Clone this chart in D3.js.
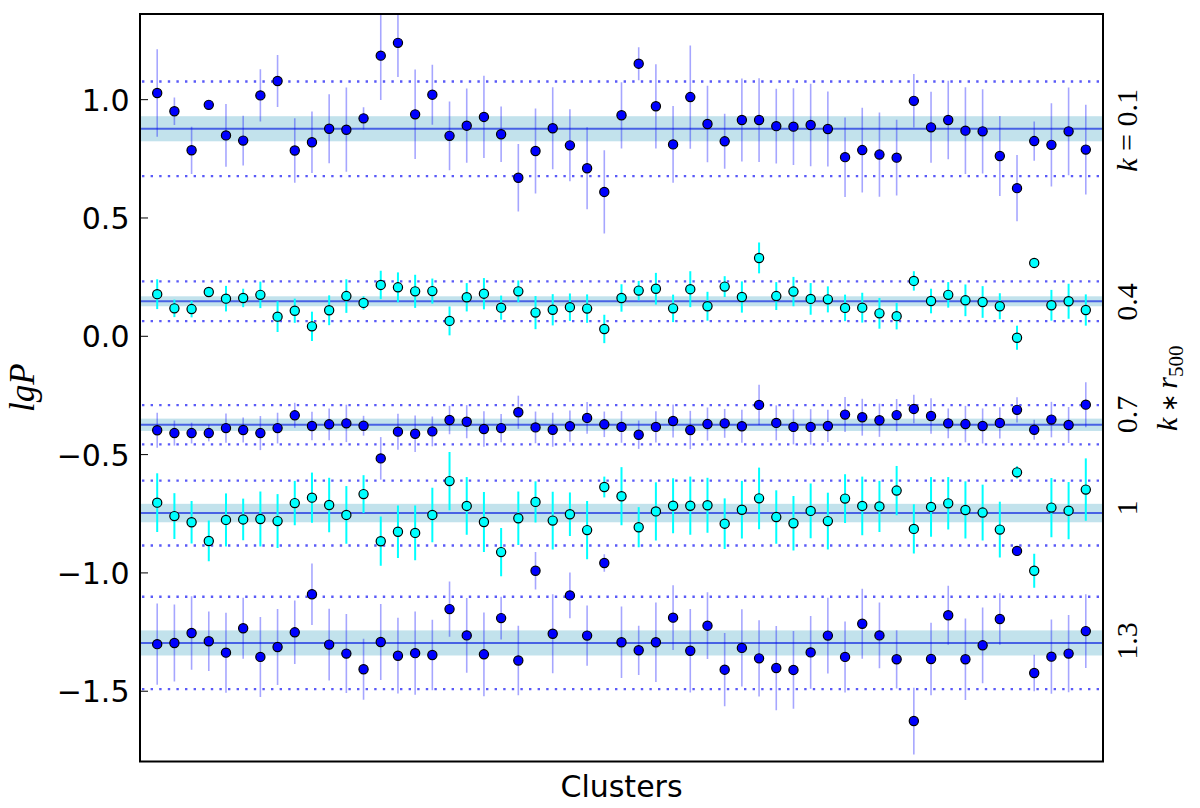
<!DOCTYPE html>
<html>
<head>
<meta charset="utf-8">
<script src="https://cdn.jsdelivr.net/npm/d3@7"></script>
<style>
  body { margin: 0; background: #fff; }
  svg { display: block; }
</style>
</head>
<body>
<div id="chart"></div>
<script>
// right-hand labels (k * r500) for each row
var kLabels = ["0.1", "0.4", "0.7", "1", "1.3"];
var labelAt = [0.870, 0.145, -0.331, -0.726, -1.288];   // where the label sits (lgP units)
var yTicks = [-1.5, -1.0, -0.5, 0.0, 0.5, 1.0];

// mean lgP, half width of the shaded band, half width of the dotted band
var rowMean = [0.877, 0.148, -0.374, -0.747, -1.296];
var rowBand = [0.053, 0.021, 0.026, 0.039, 0.053];
var rowDot  = [0.200, 0.084, 0.083, 0.137, 0.195];

// k = 0.1
var lgP1 = [1.028, 0.951, 0.786, 0.978, 0.849, 0.827, 1.018, 1.079, 0.785, 0.82, 0.877, 0.873, 0.921, 1.186, 1.24, 0.938, 1.021, 0.847, 0.89, 0.927,
    0.854, 0.67, 0.783, 0.879, 0.807, 0.71, 0.61, 0.934, 1.152, 0.972, 0.811, 1.011, 0.897, 0.824, 0.914, 0.914, 0.888, 0.886, 0.893, 0.876,
    0.757, 0.787, 0.768, 0.755, 0.995, 0.883, 0.914, 0.869, 0.866, 0.762, 0.626, 0.825, 0.809, 0.866, 0.789];
var err1 = [0.185, 0.058, 0.1, 0.02, 0.133, 0.105, 0.11, 0.11, 0.136, 0.13, 0.146, 0.178, 0.047, 0.187, 0.144, 0.189, 0.127, 0.145, 0.157, 0.174,
    0.117, 0.143, 0.18, 0.173, 0.152, 0.173, 0.176, 0.14, 0.07, 0.178, 0.162, 0.218, 0.162, 0.116, 0.175, 0.177, 0.158, 0.162, 0.174, 0.158,
    0.168, 0.179, 0.178, 0.16, 0.113, 0.15, 0.166, 0.183, 0.178, 0.169, 0.14, 0.083, 0.176, 0.185, 0.19];

// k = 0.4
var lgP2 = [0.178, 0.118, 0.115, 0.187, 0.159, 0.162, 0.175, 0.083, 0.108, 0.042, 0.11, 0.17, 0.141, 0.217, 0.207, 0.19, 0.191, 0.065, 0.165, 0.18,
    0.121, 0.19, 0.1, 0.112, 0.123, 0.117, 0.031, 0.162, 0.193, 0.201, 0.118, 0.199, 0.127, 0.21, 0.166, 0.331, 0.17, 0.189, 0.158, 0.156,
    0.12, 0.121, 0.097, 0.085, 0.234, 0.149, 0.175, 0.152, 0.145, 0.127, -0.006, 0.31, 0.131, 0.148, 0.111];
var err2 = [0.063, 0.037, 0.035, 0.02, 0.054, 0.039, 0.056, 0.065, 0.051, 0.062, 0.063, 0.071, 0.028, 0.06, 0.063, 0.07, 0.053, 0.061, 0.06, 0.066,
    0.051, 0.046, 0.07, 0.066, 0.058, 0.06, 0.06, 0.058, 0.041, 0.067, 0.058, 0.076, 0.061, 0.044, 0.066, 0.065, 0.059, 0.062, 0.067, 0.055,
    0.056, 0.063, 0.065, 0.056, 0.041, 0.052, 0.054, 0.067, 0.067, 0.055, 0.051, 0.02, 0.065, 0.074, 0.066];

// k = 0.7
var lgP3 = [-0.397, -0.409, -0.409, -0.409, -0.388, -0.396, -0.409, -0.388, -0.334, -0.379, -0.372, -0.368, -0.378, -0.516, -0.403, -0.412, -0.402, -0.354, -0.361, -0.392,
    -0.388, -0.321, -0.385, -0.395, -0.38, -0.345, -0.372, -0.383, -0.416, -0.383, -0.358, -0.396, -0.371, -0.368, -0.38, -0.29, -0.366, -0.383, -0.383, -0.379,
    -0.331, -0.342, -0.355, -0.333, -0.307, -0.337, -0.368, -0.371, -0.379, -0.366, -0.311, -0.395, -0.352, -0.375, -0.289];
var err3 = [0.074, 0.053, 0.044, 0.035, 0.062, 0.053, 0.072, 0.065, 0.053, 0.06, 0.067, 0.079, 0.042, 0.09, 0.076, 0.077, 0.063, 0.06, 0.07, 0.075,
    0.06, 0.07, 0.067, 0.072, 0.066, 0.067, 0.054, 0.067, 0.06, 0.066, 0.07, 0.081, 0.07, 0.061, 0.07, 0.085, 0.074, 0.074, 0.075, 0.068,
    0.074, 0.078, 0.07, 0.068, 0.06, 0.075, 0.063, 0.077, 0.074, 0.066, 0.053, 0.042, 0.075, 0.076, 0.095];

// k = 1
var lgP4 = [-0.703, -0.76, -0.786, -0.865, -0.776, -0.774, -0.772, -0.781, -0.705, -0.682, -0.713, -0.755, -0.667, -0.866, -0.826, -0.831, -0.755, -0.612, -0.717, -0.785,
    -0.912, -0.769, -0.7, -0.779, -0.752, -0.819, -0.637, -0.676, -0.807, -0.74, -0.716, -0.716, -0.714, -0.792, -0.733, -0.685, -0.764, -0.79, -0.738, -0.781,
    -0.686, -0.717, -0.719, -0.652, -0.814, -0.721, -0.706, -0.734, -0.745, -0.817, -0.575, -0.991, -0.724, -0.737, -0.648];
var err4 = [0.124, 0.097, 0.09, 0.086, 0.112, 0.088, 0.116, 0.114, 0.094, 0.106, 0.115, 0.122, 0.08, 0.104, 0.111, 0.116, 0.115, 0.123, 0.122, 0.127,
    0.102, 0.113, 0.087, 0.122, 0.092, 0.123, 0.044, 0.123, 0.085, 0.123, 0.116, 0.123, 0.116, 0.107, 0.122, 0.13, 0.113, 0.115, 0.116, 0.12,
    0.103, 0.124, 0.108, 0.104, 0.104, 0.126, 0.111, 0.121, 0.118, 0.118, 0.026, 0.072, 0.125, 0.121, 0.132];

// k = 1.3
var lgP5 = [-1.301, -1.296, -1.254, -1.289, -1.337, -1.234, -1.355, -1.313, -1.251, -1.09, -1.303, -1.341, -1.407, -1.292, -1.35, -1.339, -1.347, -1.153, -1.264, -1.344,
    -1.191, -1.37, -0.991, -1.257, -1.095, -1.265, -0.958, -1.293, -1.327, -1.293, -1.189, -1.329, -1.223, -1.409, -1.317, -1.361, -1.402, -1.41, -1.336, -1.265,
    -1.355, -1.215, -1.264, -1.365, -1.626, -1.364, -1.179, -1.365, -1.306, -1.195, -0.907, -1.423, -1.354, -1.341, -1.246];
var err5 = [0.172, 0.163, 0.155, 0.126, 0.169, 0.129, 0.169, 0.161, 0.134, 0.13, 0.152, 0.167, 0.129, 0.161, 0.16, 0.176, 0.149, 0.117, 0.158, 0.177,
    0.09, 0.147, 0.079, 0.167, 0.097, 0.127, 0.037, 0.151, 0.104, 0.168, 0.137, 0.176, 0.141, 0.155, 0.163, 0.161, 0.178, 0.164, 0.154, 0.16,
    0.15, 0.148, 0.139, 0.123, 0.141, 0.153, 0.125, 0.172, 0.16, 0.109, 0.02, 0.077, 0.157, 0.163, 0.156];

var lgP = [lgP1, lgP2, lgP3, lgP4, lgP5];
var errs = [err1, err2, err3, err4, err5];

var width = 1200, height = 808;
var margin = {top: 14, right: 97, bottom: 46.5, left: 140};
var svg, x, y;

function init() {
    svg = d3.select("#chart").append("svg")
        .attr("width", width)
        .attr("height", height);

    // clusters sit at 1..55, with one slot of room either side
    x = d3.scaleLinear()
        .domain([0, lgP1.length + 1])
        .range([margin.left, width - margin.right]);

    y = d3.scaleLinear()
        .domain([-1.797, 1.362])
        .range([height - margin.bottom, margin.top]);

    svg.append("clipPath").attr("id", "plot")
        .append("rect")
        .attr("x", margin.left)
        .attr("y", margin.top)
        .attr("width", width - margin.left - margin.right)
        .attr("height", height - margin.top - margin.bottom);

    var rows = d3.range(lgP.length);
    var xl = margin.left, xr = width - margin.right;

    var bg = svg.append("g").attr("clip-path", "url(#plot)");

    // shaded band around each row mean
    bg.selectAll(".band")
        .data(rows)
        .enter().append("rect")
        .attr("class", "band")
        .attr("x", xl)
        .attr("width", xr - xl)
        .attr("y", function (r) { return y(rowMean[r] + rowBand[r]); })
        .attr("height", function (r) { return y(rowMean[r] - rowBand[r]) - y(rowMean[r] + rowBand[r]); })
        .style("fill", "#add8e6")
        .style("opacity", 0.75);

    // dotted limits
    rows.forEach(function (r) {
        [1, -1].forEach(function (s) {
            bg.append("line")
                .attr("x1", xl + 2).attr("x2", xr)
                .attr("y1", y(rowMean[r] + s * rowDot[r]))
                .attr("y2", y(rowMean[r] + s * rowDot[r]))
                .style("stroke", "#5a5af8")
                .style("stroke-width", 2.4)
                .style("stroke-dasharray", "2.4,6.2");
        });
    });

    // mean lines
    bg.selectAll(".mean")
        .data(rows)
        .enter().append("line")
        .attr("class", "mean")
        .attr("x1", xl).attr("x2", xr)
        .attr("y1", function (r) { return y(rowMean[r]); })
        .attr("y2", function (r) { return y(rowMean[r]); })
        .style("stroke", "#4862e4")
        .style("stroke-width", 2);

    // error bars
    rows.forEach(function (r) {
        var cyan = r % 2 == 1;
        bg.append("g").selectAll("line")
            .data(lgP[r])
            .enter().append("line")
            .attr("x1", function (d, i) { return x(i + 1); })
            .attr("x2", function (d, i) { return x(i + 1); })
            .attr("y1", function (d, i) { return y(d + errs[r][i]); })
            .attr("y2", function (d, i) { return y(d - errs[r][i]); })
            .style("stroke", cyan ? "#00ffff" : "rgba(0,0,255,0.35)")
            .style("stroke-width", cyan ? 2 : 1.6);
    });

    // points
    rows.forEach(function (r) {
        svg.append("g").selectAll("circle")
            .data(lgP[r])
            .enter().append("circle")
            .attr("cx", function (d, i) { return x(i + 1); })
            .attr("cy", function (d) { return y(d); })
            .attr("r", 4.6)
            .style("fill", r % 2 == 1 ? "#00ffff" : "#0000ff")
            .style("stroke", "#000")
            .style("stroke-width", 1.2);
    });

    // y ticks (inside) and labels
    var fmt = d3.format(".1f");
    svg.selectAll(".tick")
        .data(yTicks)
        .enter().append("line")
        .attr("x1", xl).attr("x2", xl + 8)
        .attr("y1", function (d) { return y(d); })
        .attr("y2", function (d) { return y(d); })
        .style("stroke", "#000")
        .style("stroke-width", 1);

    svg.selectAll(".ticklabel")
        .data(yTicks)
        .enter().append("text")
        .attr("x", xl - 10.5)
        .attr("y", function (d) { return y(d); })
        .attr("dy", 11)
        .style("text-anchor", "end")
        .style("font-family", "DejaVu Sans")
        .style("font-size", "30px")
        .text(function (d) { return fmt(d); });

    // frame
    svg.append("rect")
        .attr("x", xl)
        .attr("y", margin.top)
        .attr("width", xr - xl)
        .attr("height", height - margin.top - margin.bottom)
        .style("fill", "none")
        .style("stroke", "#000")
        .style("stroke-width", 2);

    // axis titles
    svg.append("text")
        .attr("x", (xl + xr) / 2)
        .attr("y", 797)
        .style("text-anchor", "middle")
        .style("font-family", "DejaVu Sans")
        .style("font-size", "30px")
        .text("Clusters");

    svg.append("text")
        .attr("transform", "translate(34," + ((margin.top + height - margin.bottom) / 2) + ") rotate(-90)")
        .style("text-anchor", "middle")
        .style("font-family", "Liberation Serif")
        .style("font-style", "italic")
        .style("font-size", "35px")
        .text("lgP");

    // row labels on the right
    var serif = "Liberation Serif";
    kLabels.forEach(function (lab, r) {
        var t = svg.append("text")
            .attr("transform", "translate(1137," + y(labelAt[r]) + ") rotate(-90)")
            .style("text-anchor", "middle")
            .style("font-family", serif)
            .style("font-size", "30px");
        if (r == 0) {
            t.append("tspan").style("font-style", "italic").text("k");
            t.append("tspan").text(" = " + lab);
        } else {
            t.text(lab);
        }
    });

    var kt = svg.append("text")
        .attr("transform", "translate(1177," + y(-0.22) + ") rotate(-90)")
        .style("text-anchor", "middle")
        .style("font-family", serif)
        .style("font-size", "30px");
    kt.append("tspan").style("font-style", "italic").text("k");
    kt.append("tspan").style("font-size", "22px").text(" \u2217 ");
    kt.append("tspan").style("font-style", "italic").text("r");
    kt.append("tspan").attr("dy", 6).style("font-size", "21px").text("500");
}

init();
</script>
</body>
</html>
